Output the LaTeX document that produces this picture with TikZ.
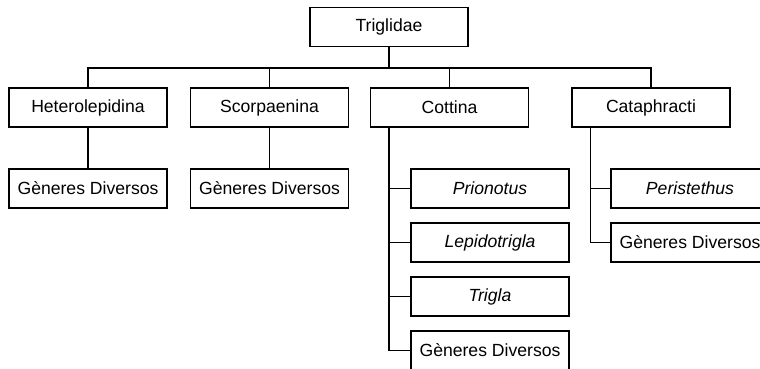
\documentclass[tikz,border=0pt]{standalone}
\usepackage{fontspec}
\setmainfont{Liberation Sans}
\tikzstyle{every path}+=[line width=0.75pt]
\tikzstyle{taxon}=[rectangle,draw,minimum width=79pt,minimum height=19.5pt,inner sep=0pt,font=\fontsize{8.8}{10}\selectfont]
\usetikzlibrary{positioning}

\begin{document}
\begin{tikzpicture}[x=0.5pt,y=-0.5pt]

\useasboundingbox (0,0) rectangle (760,369);

\node[taxon] (tri) at (389,27) {Triglidae};

\node[taxon] (het) at (88,107.5) {Heterolepidina};
\node[taxon] (sco) at (269.5,107.5) {Scorpaenina};
\node[taxon] (cot) at (449.5,107.5) {Cottina};
\node[taxon] (cat) at (651,107.5) {Cataphracti};

\node[taxon,node distance=40.5pt,below of=het] (hetgd) {Gèneres Diversos};
\node[taxon,node distance=40.5pt,below of=sco] (scogd) {Gèneres Diversos};

\node[taxon,node distance=40.5pt,below of=cot,xshift=20.25pt] (prio) {\textit{Prionotus}};
\node[taxon,node distance=27pt,below of=prio] (lepi) {\textit{Lepidotrigla}};
\node[taxon,node distance=27pt,below of=lepi] (trig) {\textit{Trigla}};
\node[taxon,node distance=27pt,below of=trig] (cotgd) {Gèneres Diversos};

\node[taxon,node distance=40.5pt,below of=cat,xshift=19.5pt] (peri) {\textit{Peristethus}};
\node[taxon,node distance=27pt,below of=peri] (catgd) {Gèneres Diversos};

\coordinate (bus) at (389,68);
\coordinate (cotspine) at ([xshift=9.5pt]cot.south west);
\coordinate (catspine) at ([xshift=9.5pt]cat.south west);

\draw (tri.south) -- (bus);
\draw (het.north) |- (bus);
\draw (sco.north) |- (bus);
\draw (cot.north) |- (bus);
\draw (cat.north) |- (bus);

\draw (het) -- (hetgd);
\draw (sco) -- (scogd);

\draw (cotspine) |- (prio.west);
\draw (cotspine) |- (lepi.west);
\draw (cotspine) |- (trig.west);
\draw (cotspine) |- (cotgd.west);

\draw (catspine) |- (peri.west);
\draw (catspine) |- (catgd.west);
\end{tikzpicture}
\end{document}
